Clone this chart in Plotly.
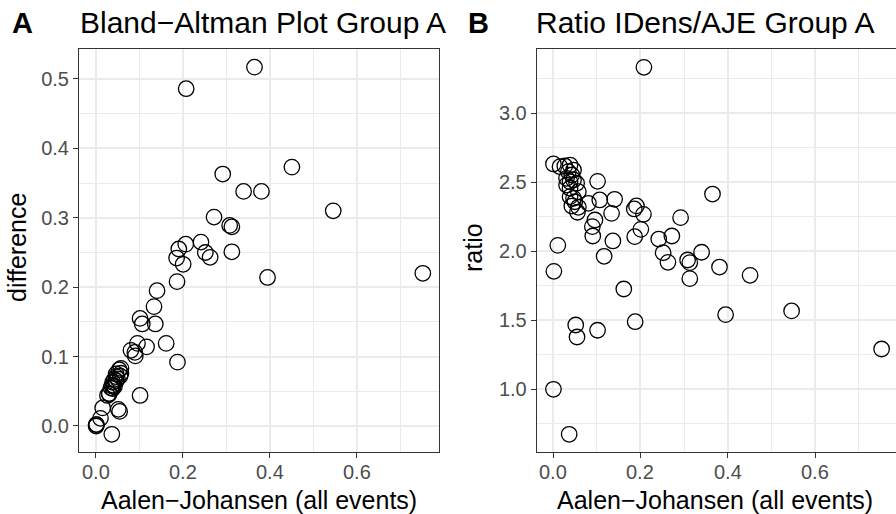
import plotly.graph_objects as go

# ---- data ----
aje = [0.365, 0.208, 0.451, 0.292, 0.340, 0.381, 0.546, 0.272, 0.308, 0.313,
       0.313, 0.242, 0.252, 0.263, 0.207, 0.191, 0.186, 0.201, 0.187, 0.395,
       0.752, 0.141, 0.134, 0.102, 0.107, 0.137, 0.162, 0.117, 0.096, 0.090,
       0.091, 0.188, 0.102, 0.052, 0.055, 0.037, 0.001, 0.002, 0.011, 0.081,
       0.001, 0.016, 0.027, 0.039, 0.047, 0.035, 0.043, 0.031, 0.039, 0.047,
       0.054, 0.031, 0.039, 0.058, 0.039, 0.047, 0.050, 0.043, 0.058, 0.056]
difference = [0.517, 0.486, 0.373, 0.363, 0.338, 0.338, 0.310, 0.301, 0.289, 0.287,
              0.251, 0.265, 0.250, 0.243, 0.262, 0.255, 0.242, 0.233, 0.208, 0.214,
              0.220, 0.195, 0.172, 0.155, 0.147, 0.147, 0.119, 0.114, 0.119, 0.106,
              0.101, 0.092, 0.044, 0.024, 0.021, -0.012, 0.000, 0.002, 0.011, 0.109,
              0.002, 0.026, 0.044, 0.063, 0.075, 0.055, 0.067, 0.047, 0.059, 0.071,
              0.081, 0.046, 0.057, 0.083, 0.054, 0.065, 0.068, 0.057, 0.076, 0.072]
ratio = [2.415, 3.333, 1.826, 2.244, 1.993, 1.886, 1.568, 2.111, 1.937, 1.918,
         1.802, 2.089, 1.990, 1.920, 2.268, 2.329, 2.307, 2.159, 2.106, 1.541,
         1.292, 2.377, 2.275, 2.507, 2.372, 2.075, 1.727, 1.964, 2.227, 2.179,
         2.111, 1.490, 1.428, 1.466, 1.379, 0.674, 1.000, 1.855, 2.043, 2.348,
         2.633, 2.613, 2.618, 2.625, 2.589, 2.577, 2.553, 2.529, 2.504, 2.517,
         2.493, 2.480, 2.457, 2.432, 2.396, 2.384, 2.359, 2.328, 2.319, 2.283]

x_tick_values = [0.0, 0.2, 0.4, 0.6]
x_tick_labels = ["0.0", "0.2", "0.4", "0.6"]

tags = ["A", "B"]
titles = ["Bland\u2212Altman Plot Group A", "Ratio IDens/AJE Group A"]
x_title = "Aalen\u2212Johansen (all events)"
y_titles = ["difference", "ratio"]

W, H = 896, 514
FONT = "Liberation Sans, Arial, Helvetica, sans-serif"


def fx(p):
    return p / W


def fy(p):
    return 1 - p / H


fig = go.Figure()
marker = dict(symbol="circle-open", size=15.5, color="black",
              line=dict(width=1.3, color="black"))
fig.add_trace(go.Scatter(x=aje, y=difference, mode="markers", marker=marker,
                         xaxis="x", yaxis="y", showlegend=False, hoverinfo="x+y"))
fig.add_trace(go.Scatter(x=aje, y=ratio, mode="markers", marker=marker,
                         xaxis="x2", yaxis="y2", showlegend=False, hoverinfo="x+y"))

grid_major = "#EBEBEB"
tickfont = dict(family=FONT, size=20, color="#4D4D4D")


def axis_common():
    return dict(showgrid=True, gridcolor=grid_major, gridwidth=1.5,
                zeroline=False, ticks="outside", ticklen=5, tickwidth=1,
                tickcolor="#333333", tickfont=tickfont, tickformat=".1f",
                showline=True, linecolor="#333333", linewidth=1,
                automargin=False, fixedrange=True)


# panel pixel geometry
yA_dom = [fy(452), fy(49)]

xa = axis_common()
xa.update(domain=[fx(79), fx(439)], range=[-0.0384, 0.7892],
          tickmode="array", tickvals=x_tick_values, showticklabels=False,
          mirror=True, anchor="y",
          minor=dict(tick0=0.1, dtick=0.2, showgrid=True, gridcolor=grid_major,
                     gridwidth=0.75, ticks=""))
ya = axis_common()
ya.update(domain=yA_dom, range=[-0.0375, 0.5432], tick0=0, dtick=0.1,
          mirror=True, anchor="x",
          minor=dict(tick0=0.05, dtick=0.1, showgrid=True, gridcolor=grid_major,
                     gridwidth=0.75, ticks=""))

xb = axis_common()
xb.update(domain=[fx(536.7), 1.0], range=[-0.0373, 0.7849],
          tickmode="array", tickvals=x_tick_values, showticklabels=False,
          mirror=True, anchor="y2",
          minor=dict(tick0=0.1, dtick=0.2, showgrid=True, gridcolor=grid_major,
                     gridwidth=0.75, ticks=""))
yb = axis_common()
yb.update(domain=yA_dom, range=[0.5457, 3.466], tick0=0, dtick=0.5,
          mirror=False, anchor="x2",
          minor=dict(tick0=0.25, dtick=0.5, showgrid=True, gridcolor=grid_major,
                     gridwidth=0.75, ticks=""))

annotations = []
# x tick labels (placed on the data axes)
for xref in ["x", "x2"]:
    for v, lab in zip(x_tick_values, x_tick_labels):
        annotations.append(dict(text=lab, x=v, xref=xref, y=fy(472), yref="paper",
                                xanchor="center", yanchor="middle", showarrow=False,
                                font=tickfont))
# tags and titles
for tag, tx, title, ttx in [(tags[0], 10, titles[0], 78), (tags[1], 466, titles[1], 534)]:
    annotations.append(dict(text="<b>" + tag + "</b>", x=fx(tx), y=fy(23),
                            xref="paper", yref="paper", xanchor="left", yanchor="middle",
                            showarrow=False, font=dict(family=FONT, size=29, color="black")))
    annotations.append(dict(text=title, x=fx(ttx), y=fy(23),
                            xref="paper", yref="paper", xanchor="left", yanchor="middle",
                            showarrow=False, font=dict(family=FONT, size=30, color="black")))
# x axis titles
for cx in [259, 715]:
    annotations.append(dict(text=x_title, x=fx(cx), y=fy(500),
                            xref="paper", yref="paper", xanchor="center", yanchor="middle",
                            showarrow=False, font=dict(family=FONT, size=25, color="black")))
# y axis titles
for t, cx in zip(y_titles, [17, 473]):
    annotations.append(dict(text=t, x=fx(cx), y=fy(248), textangle=-90,
                            xref="paper", yref="paper", xanchor="center", yanchor="middle",
                            showarrow=False, font=dict(family=FONT, size=25, color="black")))

fig.update_layout(
    width=W, height=H, autosize=False,
    margin=dict(l=0, r=0, t=0, b=0, pad=0),
    paper_bgcolor="white", plot_bgcolor="white",
    xaxis=xa, yaxis=ya, xaxis2=xb, yaxis2=yb,
    annotations=annotations,
    font=dict(family=FONT),
)

fig.write_html(
    "out.html", include_plotlyjs=True, config={"displayModeBar": False},
    post_script="document.body.style.margin='0px';document.body.style.overflow='hidden';",
)
